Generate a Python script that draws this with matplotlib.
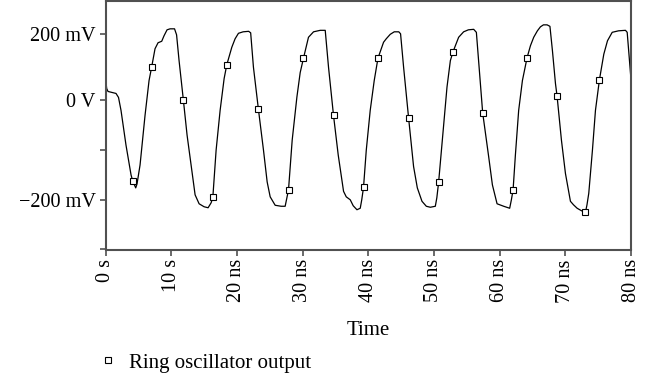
import matplotlib
matplotlib.use("Agg")
import matplotlib.pyplot as plt
from matplotlib.lines import Line2D

# Waveform (time in ns, value in axis units of mV)
t_ns = [0, 0.08, 0.18, 0.38, 0.99, 1.6, 1.98, 2.36, 3.12, 3.89, 4.14, 4.6, 4.8, 5.26, 6.02, 6.63,
        7.04, 7.54, 8.0, 8.56, 8.91, 9.37, 9.83, 10.51, 10.82, 11.2, 11.86, 12.42, 13.03, 13.64,
        14.25, 15.01, 15.62, 16.08, 16.34, 16.84, 17.45, 18.06, 18.47, 19.23, 19.73, 20.24, 20.95,
        21.79, 22.1, 22.52, 23.28, 24.05, 24.61, 25.07, 25.83, 26.74, 27.35, 27.86, 28.42, 29.14,
        29.64, 30.14, 30.9, 31.67, 32.69, 33.45, 33.95, 34.71, 35.43, 36.24, 36.65, 37.26, 37.71,
        38.28, 38.78, 39.01, 39.28, 39.7, 40.3, 40.91, 41.48, 42.33, 42.74, 43.35, 43.96, 44.65,
        44.92, 45.38, 46.14, 46.9, 47.47, 48.18, 48.84, 49.45, 50.21, 50.44, 50.71, 51.28, 51.99,
        52.5, 52.91, 53.76, 54.52, 55.24, 56.05, 56.46, 56.91, 57.42, 58.33, 58.9, 59.61, 60.62,
        61.53, 61.79, 62.05, 62.4, 62.9, 63.47, 64.18, 64.69, 65.19, 65.75, 66.21, 66.67, 67.23,
        67.66, 68.04, 68.5, 68.75, 69.41, 70.02, 70.78, 71.24, 71.8, 72.46, 73.07, 73.3, 73.57,
        74.13, 74.59, 75.2, 75.86, 76.42, 77.14, 78.1, 79.16, 79.42, 80.0]
v_mv = [0, 36, 24, 18, 16, 14, 6, -20, -90, -150, -162, -176, -168, -130, -30, 40,
        68, 104, 116, 119, 130, 142, 144, 144, 132, 80, 0, -70, -130, -190,
        -208, -214, -216, -206, -195, -100, -20, 44, 72, 107, 124, 135, 138,
        139, 136, 67, -18, -100, -164, -194, -211, -213, -213, -180, -80, 7,
        56, 85, 127, 138, 141, 141, 67, -30, -110, -183, -194, -200, -212,
        -220, -217, -200, -175, -100, -20, 40, 85, 117, 124, 133, 138, 138,
        134, 67, -35, -133, -176, -203, -213, -215, -213, -196, -165, -80, 27,
        80, 98, 127, 138, 142, 143, 137, 60, -25, -113, -170, -208, -213,
        -217, -200, -180, -110, -20, 40, 86, 110, 127, 140, 148, 152, 152,
        149, 100, 34, 8, -80, -147, -203, -210, -217, -222, -225, -210, -187,
        -100, -20, 42, 93, 120, 137, 140, 141, 137, 42]

# Marker samples
mk_t = [4.14, 7.04, 11.86, 16.34, 18.47, 23.28, 27.86, 30.14, 34.71, 39.28,
        41.48, 46.14, 50.71, 52.91, 57.42, 62.05, 64.18, 68.75, 73.07, 75.2]
mk_v = [-162, 68, 0, -195, 72, -18, -180, 85, -30, -175,
        85, -35, -165, 98, -25, -180, 86, 8, -225, 42]

x_ticks = [0, 10, 20, 30, 40, 50, 60, 70, 80]
x_labels = ["0 s", "10 s", "20 ns", "30 ns", "40 ns", "50 ns", "60 ns", "70 ns", "80 ns"]
y_ticks = [133, 0, -100, -200, -300]
y_labels = ["200 mV", "0 V", "", "\u2212200 mV", ""]

plt.rcParams['font.family'] = ['Liberation Serif', 'DejaVu Serif']

fig = plt.figure(figsize=(6.58, 3.81), dpi=100)
ax = fig.add_axes([105.5 / 658, 1 - 249.5 / 381, (631 - 105.5) / 658, 248.5 / 381])

spine_c = "#505050"
ax.plot(t_ns, v_mv, color="black", lw=0.9, zorder=2)
ax.plot(mk_t, mk_v, ls="none", marker="s", ms=5, mfc="white", mec="black", mew=0.8, zorder=3)

ax.set_xlim(0, 80)
ax.set_ylim(-300, 200)
ax.set_xticks(x_ticks)
ax.set_xticklabels(x_labels, rotation=90, va="top", ha="center", fontsize=14.6)
ax.set_yticks(y_ticks)
ax.set_yticklabels(y_labels, fontsize=14.6)
ax.tick_params(axis="both", direction="out", length=4, width=1.2, color=spine_c, pad=3)
for s in ax.spines.values():
    s.set_color(spine_c)
    s.set_linewidth(1.5)

ax.set_xlabel("Time", fontsize=15, labelpad=13)

h = Line2D([], [], ls="none", marker="s", ms=5, mfc="white", mec="black", mew=0.8)
fig.legend([h], ["Ring oscillator output"], loc="center left",
           bbox_to_anchor=(100 / 658, 1 - 363 / 381), frameon=False, fontsize=15,
           handlelength=0.8, handletextpad=0.6, borderpad=0, borderaxespad=0)

fig.savefig("out.png", dpi=100)
